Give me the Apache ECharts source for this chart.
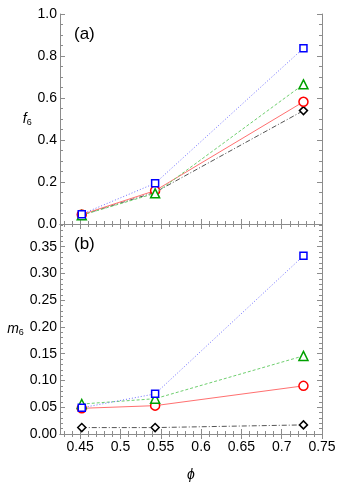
<!DOCTYPE html>
<html><head><meta charset="utf-8">
<script src="https://cdn.jsdelivr.net/npm/echarts@6/dist/echarts.min.js"></script>
<style>html,body{margin:0;padding:0;background:#fff}#c{width:346px;height:485px}</style>
</head><body><div id="c"></div>
<script>
// ---- data ----
var phi = [0.452, 0.543, 0.727];
var f6Blue  = [0.047, 0.194, 0.837];
var f6Green = [0.042, 0.146, 0.665];
var f6Red   = [0.045, 0.159, 0.582];
var f6Black = [0.043, 0.151, 0.540];
var m6Blue  = [0.049, 0.075, 0.333];
var m6Green = [0.056, 0.066, 0.146];
var m6Red   = [0.048, 0.053, 0.090];
var m6Black = [0.012, 0.012, 0.017];
var xTicks  = [0.45, 0.5, 0.55, 0.6, 0.65, 0.7, 0.75];
var f6Ticks = [0, 0.2, 0.4, 0.6, 0.8, 1.0];
var m6Ticks = [0, 0.05, 0.1, 0.15, 0.2, 0.25, 0.3, 0.35];

var FONT = 'Liberation Sans';
var AX = '#8c8c8c';
function minors(lo, hi, step, majors) {
  var out = [];
  for (var v = lo; v <= hi + 1e-9; v += step) {
    var r = Math.round(v * 1000) / 1000;
    if (majors.every(function (m) { return Math.abs(m - r) > 1e-6; })) out.push(r);
  }
  return out;
}
var xMinor = minors(0.43, 0.75, 0.01, xTicks);
var f6Minor = minors(0.05, 1.0, 0.05, f6Ticks);
var m6Minor = minors(0.01, 0.39, 0.01, m6Ticks);

var xAxes = [], yAxes = [];
function xPair(grid, pos, labels) {
  var base = {gridIndex: grid, type: 'value', position: pos, min: 0.425, max: 0.75,
    splitLine: {show: false}};
  xAxes.push(Object.assign({}, base, {
    axisLine: {show: true, lineStyle: {color: AX, width: 1}},
    axisTick: {show: true, inside: true, length: 5, customValues: xTicks, lineStyle: {color: AX}},
    axisLabel: {show: labels, customValues: xTicks, margin: 6, color: '#000', fontFamily: FONT, fontSize: 14,
      formatter: function (v) { return String(parseFloat(v.toFixed(2))); }},
    name: labels ? 'ϕ' : '', nameLocation: 'middle', nameGap: 34,
    nameTextStyle: {fontFamily: FONT, fontSize: 14, fontStyle: 'italic', color: '#000'}
  }));
  xAxes.push(Object.assign({}, base, {
    axisLine: {show: false},
    axisTick: {show: true, inside: true, length: 3, customValues: xMinor, lineStyle: {color: AX}},
    axisLabel: {show: false}
  }));
}
function yPair(grid, pos, max, majors, minorVals, labels, dec, nameRich, gap) {
  var base = {gridIndex: grid, type: 'value', position: pos, min: 0, max: max, splitLine: {show: false}};
  yAxes.push(Object.assign({}, base, {
    axisLine: {show: true, lineStyle: {color: AX, width: 1}},
    axisTick: {show: true, inside: true, length: 5, customValues: majors, lineStyle: {color: AX}},
    axisLabel: {show: labels, customValues: majors, margin: 3, color: '#000', fontFamily: FONT, fontSize: 14,
      formatter: function (v) { return v.toFixed(dec); }},
    name: labels ? nameRich : '', nameLocation: 'middle', nameRotate: 0, nameGap: gap,
    nameTextStyle: {color: '#000', fontFamily: FONT, fontSize: 14, align: 'right',
      rich: {i: {fontFamily: FONT, fontSize: 14, fontStyle: 'italic'},
             s: {fontFamily: FONT, fontSize: 9, padding: [8, 0, 0, 0]}}}
  }));
  yAxes.push(Object.assign({}, base, {
    axisLine: {show: false},
    axisTick: {show: true, inside: true, length: 3, customValues: minorVals, lineStyle: {color: AX}},
    axisLabel: {show: false}
  }));
}
// grid 0 (top panel): x axes 0-3, y axes 0-3
xPair(0, 'bottom', false); xPair(0, 'top', false);
yPair(0, 'left', 1.0, f6Ticks, f6Minor, true, 1, '{i|f}{s|6}', 21);
yPair(0, 'right', 1.0, f6Ticks, f6Minor, false, 1, '', 0);
// grid 1 (bottom panel): x axes 4-7, y axes 4-7
xPair(1, 'bottom', true); xPair(1, 'top', false);
yPair(1, 'left', 0.3925, m6Ticks, m6Minor, true, 2, '{i|m}{s|6}', 30);
yPair(1, 'right', 0.3925, m6Ticks, m6Minor, false, 2, '', 0);

function zip(ys) { return phi.map(function (x, i) { return [x, ys[i]]; }); }
var styles = [
  {sym: 'rect', size: 7, mark: '#0000ff', line: '#6f6fff', type: [1, 2]},
  {sym: 'triangle', size: 9, mark: '#00a000', line: '#6fcf6f', type: [3, 2]},
  {sym: 'circle', size: 9, mark: '#ff0000', line: '#ff7070', type: 'solid'},
  {sym: 'diamond', size: 8, mark: '#000000', line: '#555555', type: [5, 2, 1, 2]}
];
var series = [];
function addSeries(grid, xi, yi, arrs) {
  arrs.forEach(function (d, k) {
    var s = styles[k];
    series.push({type: 'line', xAxisIndex: xi, yAxisIndex: yi, data: zip(d),
      symbol: s.sym, symbolSize: s.size, showSymbol: true, animation: false,
      lineStyle: {color: s.line, width: 1, type: s.type},
      itemStyle: {color: '#fff', borderColor: s.mark, borderWidth: 1.5},
      z: 10 - k});
  });
}
addSeries(0, 0, 0, [f6Blue, f6Green, f6Red, f6Black]);
addSeries(1, 4, 4, [m6Blue, m6Green, m6Red, m6Black]);

var chart = echarts.init(document.getElementById('c'), null, {renderer: 'canvas'});
chart.setOption({
  animation: false,
  backgroundColor: '#fff',
  grid: [
    {left: 60, top: 14, width: 262, height: 210},
    {left: 60, top: 224, width: 262, height: 210}
  ],
  xAxis: xAxes,
  yAxis: yAxes,
  series: series,
  graphic: [
    {type: 'text', left: 74, top: 26, style: {text: '(a)', fontFamily: FONT, fontSize: 17, fill: '#000'}},
    {type: 'text', left: 74, top: 236, style: {text: '(b)', fontFamily: FONT, fontSize: 17, fill: '#000'}}
  ]
});
</script></body></html>
